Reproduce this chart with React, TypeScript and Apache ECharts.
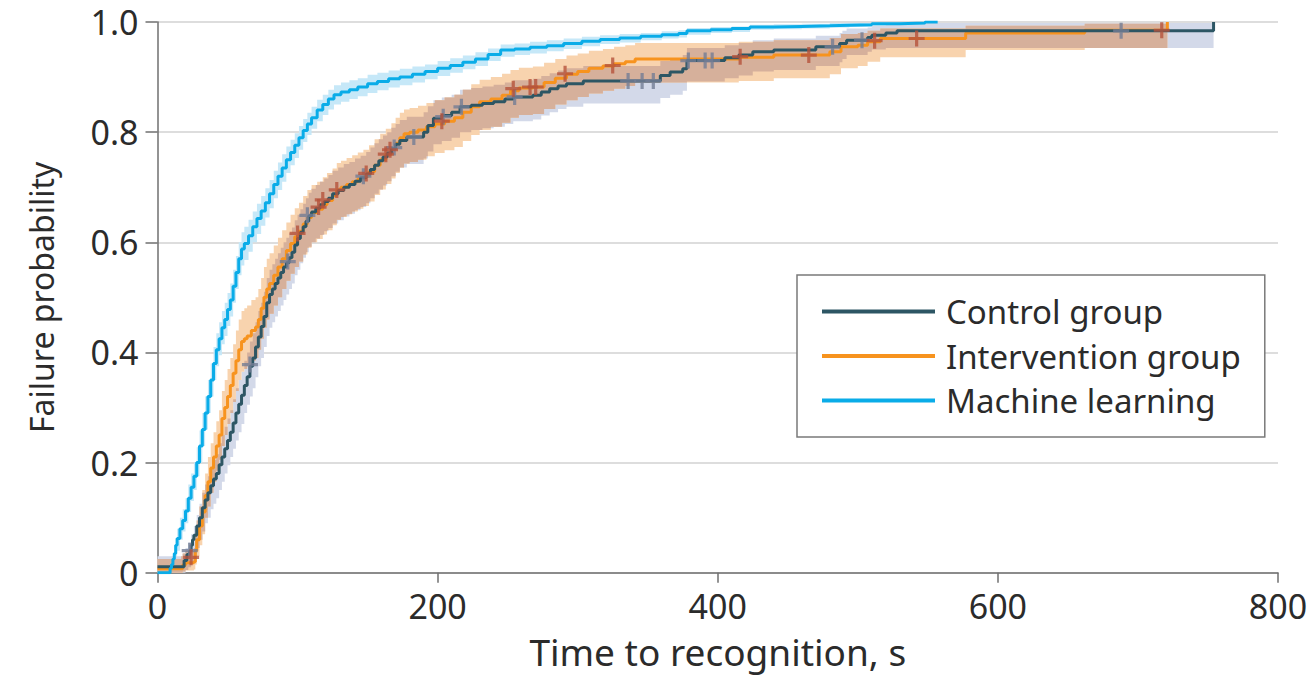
import React, { useEffect, useRef } from "react";
import * as echarts from "echarts";

// ---------- data ----------
const seriesNames = ["Control group", "Intervention group", "Machine learning"];
const xMin = 0;
const xMax = 800;
const xInterval = 200;
const yMin = 0;
const yMax = 1;
const yInterval = 0.2;

// [time (s), failure probability]
const mlCurve: number[][] = [
  [0, 0], [8, 0], [9, 0.008], [10, 0.015], [11, 0.025], [12, 0.035], [13, 0.05], [14, 0.062],
  [16, 0.08], [18, 0.095], [20, 0.112], [22, 0.135], [24, 0.155], [26, 0.175], [28, 0.2],
  [30, 0.23], [32, 0.26], [34, 0.29], [36, 0.32], [38, 0.35], [40, 0.38], [42, 0.405],
  [44, 0.425], [46, 0.445], [48, 0.46], [50, 0.478], [52, 0.495], [54, 0.52], [56, 0.545],
  [58, 0.57], [60, 0.588], [62, 0.598], [65, 0.612], [68, 0.628], [71, 0.643], [74, 0.657],
  [77, 0.672], [80, 0.688], [83, 0.705], [86, 0.72], [89, 0.735], [92, 0.75], [95, 0.763],
  [98, 0.776], [101, 0.79], [104, 0.803], [107, 0.815], [110, 0.826], [114, 0.84], [118, 0.85],
  [122, 0.86], [126, 0.868], [131, 0.873], [137, 0.877], [143, 0.882], [150, 0.888],
  [157, 0.892], [165, 0.897], [173, 0.9], [182, 0.905], [191, 0.91], [200, 0.916],
  [209, 0.921], [218, 0.927], [227, 0.933], [236, 0.941], [245, 0.949], [255, 0.951],
  [266, 0.954], [278, 0.957], [290, 0.961], [303, 0.965], [316, 0.968], [330, 0.971],
  [345, 0.974], [360, 0.977], [372, 0.979], [378, 0.984], [395, 0.986], [410, 0.988],
  [423, 0.991], [440, 0.992], [460, 0.993], [480, 0.994], [494, 0.995], [510, 0.997],
  [530, 0.998], [548, 1.0], [557, 1.0],
];

const controlCurve: number[][] = [
  [0, 0.011], [18, 0.011], [19, 0.022], [21, 0.033], [23, 0.04], [24, 0.05], [25, 0.06],
  [26, 0.068], [28, 0.085], [30, 0.1], [32, 0.118], [34, 0.132], [36, 0.145], [38, 0.158],
  [40, 0.17], [42, 0.18], [44, 0.196], [46, 0.21], [48, 0.225], [50, 0.24], [52, 0.255],
  [54, 0.272], [56, 0.29], [58, 0.306], [60, 0.322], [62, 0.34], [64, 0.356], [66, 0.375],
  [68, 0.39], [70, 0.41], [72, 0.428], [74, 0.447], [76, 0.465], [78, 0.49], [80, 0.505],
  [82, 0.515], [84, 0.525], [86, 0.535], [88, 0.545], [90, 0.555], [92, 0.563], [94, 0.572],
  [96, 0.582], [98, 0.595], [100, 0.607], [102, 0.618], [104, 0.628], [106, 0.638],
  [108, 0.648], [110, 0.655], [113, 0.662], [116, 0.668], [119, 0.674], [122, 0.68],
  [125, 0.688], [129, 0.694], [133, 0.7], [137, 0.705], [141, 0.711], [145, 0.717],
  [149, 0.724], [152, 0.732], [155, 0.74], [158, 0.748], [161, 0.755], [164, 0.762],
  [167, 0.77], [170, 0.778], [173, 0.785], [178, 0.791], [190, 0.8], [193, 0.812],
  [197, 0.825], [203, 0.83], [210, 0.836], [216, 0.846], [224, 0.849], [232, 0.852],
  [240, 0.855], [248, 0.86], [254, 0.864], [268, 0.867], [274, 0.873], [280, 0.879],
  [286, 0.884], [292, 0.888], [304, 0.893], [359, 0.903], [366, 0.909], [375, 0.915],
  [378, 0.93], [405, 0.935], [415, 0.94], [425, 0.946], [440, 0.949], [470, 0.955],
  [487, 0.961], [492, 0.967], [507, 0.972], [510, 0.976], [520, 0.98], [528, 0.984],
  [754, 1.0],
];

const interventionCurve: number[][] = [
  [0, 0.007], [17, 0.007], [18, 0.014], [20, 0.018], [26, 0.02], [27, 0.04], [28, 0.06],
  [30, 0.085], [32, 0.11], [34, 0.14], [36, 0.165], [38, 0.19], [40, 0.21], [42, 0.23],
  [44, 0.25], [46, 0.28], [48, 0.3], [50, 0.32], [52, 0.34], [54, 0.362], [56, 0.385],
  [58, 0.405], [60, 0.42], [62, 0.425], [64, 0.43], [67, 0.44], [70, 0.446], [72, 0.46],
  [74, 0.48], [76, 0.5], [78, 0.515], [80, 0.525], [83, 0.54], [86, 0.555], [89, 0.57],
  [92, 0.585], [95, 0.598], [98, 0.61], [101, 0.62], [104, 0.633], [107, 0.645],
  [110, 0.654], [114, 0.66], [118, 0.668], [121, 0.676], [125, 0.685], [128, 0.695],
  [131, 0.7], [135, 0.705], [139, 0.71], [143, 0.715], [147, 0.72], [151, 0.728],
  [155, 0.74], [159, 0.75], [163, 0.76], [167, 0.77], [170, 0.78], [173, 0.79],
  [176, 0.797], [180, 0.8], [186, 0.804], [192, 0.81], [198, 0.815], [205, 0.82],
  [212, 0.826], [218, 0.836], [224, 0.846], [230, 0.855], [238, 0.86], [246, 0.867],
  [252, 0.875], [258, 0.88], [268, 0.882], [276, 0.89], [284, 0.898], [292, 0.905],
  [300, 0.91], [308, 0.916], [318, 0.92], [326, 0.924], [334, 0.928], [341, 0.933],
  [415, 0.936], [440, 0.94], [480, 0.946], [488, 0.955], [500, 0.958], [507, 0.964],
  [516, 0.97], [577, 0.98], [662, 0.985], [721, 1.0],
];

// confidence bands: [time, lower, upper]
const mlBand: number[][] = [
  [0, 0, 0], [8, 0, 0.005], [10, 0.005, 0.03], [12, 0.02, 0.05], [14, 0.04, 0.08],
  [16, 0.06, 0.1], [18, 0.075, 0.115], [20, 0.09, 0.135], [22, 0.11, 0.16], [24, 0.13, 0.18],
  [26, 0.15, 0.2], [28, 0.175, 0.228], [30, 0.2, 0.258], [32, 0.23, 0.29], [34, 0.26, 0.32],
  [36, 0.29, 0.35], [38, 0.32, 0.38], [40, 0.35, 0.41], [42, 0.375, 0.435], [44, 0.395, 0.455],
  [46, 0.415, 0.475], [48, 0.43, 0.49], [50, 0.448, 0.508], [52, 0.465, 0.525],
  [54, 0.49, 0.55], [56, 0.515, 0.575], [58, 0.54, 0.6], [60, 0.558, 0.618],
  [62, 0.568, 0.628], [65, 0.583, 0.641], [68, 0.6, 0.656], [71, 0.615, 0.67],
  [74, 0.63, 0.684], [77, 0.645, 0.698], [80, 0.662, 0.713], [83, 0.68, 0.73],
  [86, 0.695, 0.745], [89, 0.71, 0.76], [92, 0.726, 0.774], [95, 0.74, 0.786],
  [98, 0.753, 0.798], [101, 0.768, 0.811], [104, 0.782, 0.824], [107, 0.795, 0.835],
  [110, 0.806, 0.846], [114, 0.82, 0.859], [118, 0.831, 0.868], [122, 0.841, 0.877],
  [126, 0.85, 0.885], [131, 0.855, 0.89], [137, 0.86, 0.894], [143, 0.865, 0.898],
  [150, 0.871, 0.904], [157, 0.876, 0.908], [165, 0.881, 0.912], [173, 0.885, 0.915],
  [182, 0.89, 0.919], [191, 0.896, 0.923], [200, 0.902, 0.929], [209, 0.908, 0.934],
  [218, 0.914, 0.939], [227, 0.92, 0.945], [236, 0.929, 0.952], [245, 0.937, 0.959],
  [255, 0.94, 0.961], [266, 0.943, 0.964], [278, 0.947, 0.967], [290, 0.951, 0.97],
  [303, 0.956, 0.973], [316, 0.96, 0.976], [330, 0.963, 0.978], [345, 0.967, 0.98],
  [360, 0.97, 0.983], [372, 0.972, 0.985], [378, 0.977, 0.989], [395, 0.98, 0.991],
  [410, 0.982, 0.992], [423, 0.986, 0.995], [440, 0.987, 0.996], [460, 0.988, 0.997],
  [480, 0.99, 0.998], [494, 0.991, 0.998], [510, 0.993, 0.999], [530, 0.995, 1],
  [548, 1, 1], [557, 1, 1],
];

const controlBand: number[][] = [
  [0, 0, 0.03], [18, 0, 0.035], [20, 0.005, 0.045], [22, 0.01, 0.055], [24, 0.02, 0.07],
  [26, 0.03, 0.085], [28, 0.045, 0.105], [30, 0.06, 0.125], [32, 0.075, 0.145],
  [34, 0.09, 0.16], [36, 0.1, 0.175], [38, 0.115, 0.19], [40, 0.125, 0.205],
  [42, 0.135, 0.215], [44, 0.15, 0.235], [46, 0.165, 0.25], [48, 0.18, 0.265],
  [50, 0.195, 0.28], [52, 0.21, 0.295], [54, 0.225, 0.315], [56, 0.24, 0.335],
  [58, 0.255, 0.35], [60, 0.27, 0.365], [62, 0.29, 0.385], [64, 0.305, 0.4],
  [66, 0.32, 0.42], [68, 0.335, 0.435], [70, 0.355, 0.455], [72, 0.375, 0.475],
  [74, 0.39, 0.49], [76, 0.41, 0.51], [78, 0.43, 0.535], [80, 0.445, 0.55],
  [82, 0.455, 0.56], [84, 0.465, 0.57], [86, 0.475, 0.58], [88, 0.485, 0.59],
  [90, 0.495, 0.6], [92, 0.505, 0.608], [94, 0.515, 0.617], [96, 0.525, 0.627],
  [98, 0.54, 0.64], [100, 0.55, 0.65], [102, 0.562, 0.66], [104, 0.572, 0.67],
  [106, 0.582, 0.68], [108, 0.592, 0.69], [110, 0.6, 0.697], [113, 0.607, 0.704],
  [116, 0.613, 0.71], [119, 0.62, 0.716], [122, 0.626, 0.722], [125, 0.634, 0.73],
  [129, 0.64, 0.736], [133, 0.647, 0.742], [137, 0.652, 0.746], [141, 0.658, 0.752],
  [145, 0.664, 0.757], [149, 0.671, 0.764], [152, 0.68, 0.772], [155, 0.688, 0.78],
  [158, 0.696, 0.787], [161, 0.703, 0.794], [164, 0.711, 0.8], [167, 0.72, 0.808],
  [170, 0.728, 0.815], [173, 0.736, 0.822], [178, 0.742, 0.828], [190, 0.752, 0.836],
  [193, 0.765, 0.847], [197, 0.778, 0.858], [203, 0.784, 0.863], [210, 0.79, 0.868],
  [216, 0.8, 0.877], [224, 0.804, 0.88], [232, 0.807, 0.883], [240, 0.81, 0.886],
  [248, 0.815, 0.89], [254, 0.82, 0.894], [268, 0.823, 0.897], [274, 0.83, 0.902],
  [280, 0.836, 0.907], [286, 0.842, 0.912], [292, 0.846, 0.916], [304, 0.852, 0.92],
  [359, 0.862, 0.929], [366, 0.868, 0.934], [375, 0.875, 0.94], [378, 0.892, 0.953],
  [405, 0.898, 0.958], [415, 0.903, 0.962], [425, 0.91, 0.967], [440, 0.913, 0.97],
  [470, 0.92, 0.975], [487, 0.927, 0.98], [489, 0.933, 0.984], [492, 0.94, 0.988],
  [507, 0.946, 0.99], [510, 0.95, 0.993], [520, 0.953, 0.995], [528, 0.953, 0.998],
  [754, 1, 1],
];

const interventionBand: number[][] = [
  [0, 0, 0.025], [17, 0, 0.03], [18, 0.002, 0.035], [20, 0.004, 0.04], [26, 0.006, 0.045],
  [27, 0.015, 0.07], [28, 0.03, 0.095], [30, 0.05, 0.12], [32, 0.07, 0.15], [34, 0.1, 0.18],
  [36, 0.12, 0.21], [38, 0.145, 0.235], [40, 0.165, 0.255], [42, 0.185, 0.275],
  [44, 0.205, 0.295], [46, 0.23, 0.33], [48, 0.25, 0.35], [50, 0.27, 0.37],
  [52, 0.29, 0.39], [54, 0.31, 0.415], [56, 0.33, 0.44], [58, 0.35, 0.46],
  [60, 0.365, 0.475], [62, 0.37, 0.48], [64, 0.375, 0.485], [67, 0.385, 0.495],
  [70, 0.39, 0.5], [72, 0.405, 0.515], [74, 0.425, 0.535], [76, 0.445, 0.555],
  [78, 0.46, 0.57], [80, 0.47, 0.58], [83, 0.485, 0.594], [86, 0.5, 0.608],
  [89, 0.515, 0.622], [92, 0.53, 0.636], [95, 0.543, 0.65], [98, 0.555, 0.662],
  [101, 0.565, 0.672], [104, 0.578, 0.684], [107, 0.59, 0.695], [110, 0.6, 0.704],
  [114, 0.606, 0.71], [118, 0.614, 0.718], [121, 0.622, 0.726], [125, 0.631, 0.734],
  [128, 0.641, 0.744], [131, 0.646, 0.748], [135, 0.651, 0.753], [139, 0.656, 0.758],
  [143, 0.661, 0.763], [147, 0.666, 0.768], [151, 0.674, 0.776], [155, 0.686, 0.787],
  [159, 0.696, 0.797], [163, 0.706, 0.806], [167, 0.716, 0.816], [170, 0.726, 0.826],
  [173, 0.736, 0.835], [176, 0.743, 0.841], [180, 0.746, 0.844], [186, 0.75, 0.848],
  [192, 0.756, 0.853], [198, 0.762, 0.858], [205, 0.767, 0.863], [212, 0.773, 0.868],
  [218, 0.784, 0.877], [224, 0.795, 0.887], [230, 0.804, 0.895], [238, 0.81, 0.9],
  [246, 0.817, 0.906], [252, 0.826, 0.913], [258, 0.831, 0.917], [268, 0.833, 0.919],
  [276, 0.842, 0.926], [284, 0.85, 0.933], [292, 0.858, 0.939], [300, 0.864, 0.943],
  [308, 0.87, 0.948], [318, 0.875, 0.951], [326, 0.879, 0.955], [334, 0.884, 0.958],
  [341, 0.89, 0.962], [415, 0.893, 0.964], [440, 0.898, 0.967], [480, 0.905, 0.971],
  [488, 0.916, 0.978], [500, 0.92, 0.98], [507, 0.928, 0.984], [516, 0.936, 0.988],
  [577, 0.949, 0.993], [662, 0.953, 0.997], [721, 1, 1],
];

// censored observations
const controlCensored: number[][] = [
  [23, 0.04], [66, 0.378], [93, 0.565], [107, 0.649], [147, 0.72], [169, 0.772],
  [183, 0.791], [204, 0.828], [217, 0.846], [255, 0.864], [336, 0.893], [346, 0.893],
  [354, 0.893], [379, 0.93], [391, 0.93], [396, 0.93], [482, 0.955], [503, 0.967],
  [688, 0.984],
];
const interventionCensored: number[][] = [
  [24, 0.028], [100, 0.616], [115, 0.664], [118, 0.677], [128, 0.695], [149, 0.725],
  [163, 0.76], [166, 0.768], [203, 0.82], [254, 0.879], [266, 0.882], [270, 0.882],
  [291, 0.906], [325, 0.921], [416, 0.937], [465, 0.94], [512, 0.966], [542, 0.97],
  [717, 0.985],
];

// ---------- styling ----------
const FONT = "Noto Sans";
const TEXT = "#2b2b2b";
const AXIS = "#6f6f6f";
const C_CONTROL = "#2D5664";
const C_INTERV = "#F7931E";
const C_ML = "#0AACE8";
const F_ML = "#C6E8F8";
const F_CONTROL = "#D3D9E9";
const F_INTERV = "#F8D3AE";
const F_OVERLAP = "#D6B09B";
const C_CENS_CONTROL = "#737D95";
const C_CENS_INTERV = "#B5533B";
const PLUS = "path://M4,0h2v4h4v2h-4v4h-2v-4h-4v-2h4z";

function stepPolygon(api: any, band: number[][]) {
  const up: number[][] = [];
  const dn: number[][] = [];
  for (let i = 0; i < band.length; i++) {
    const [t, lo, hi] = band[i];
    const tn = i < band.length - 1 ? band[i + 1][0] : t;
    up.push(api.coord([t, hi]), api.coord([tn, hi]));
    dn.push(api.coord([t, lo]), api.coord([tn, lo]));
  }
  return up.concat(dn.reverse());
}

function rowAt(band: number[][], t: number) {
  let r = band[0];
  for (const row of band) {
    if (row[0] <= t) r = row;
    else break;
  }
  return r;
}

function overlapBand(a: number[][], b: number[][]) {
  const ts = Array.from(new Set([...a.map((r) => r[0]), ...b.map((r) => r[0])])).sort(
    (x, y) => x - y
  );
  const end = Math.min(a[a.length - 1][0], b[b.length - 1][0]);
  const out: number[][] = [];
  for (const t of ts) {
    if (t > end) break;
    const ra = rowAt(a, t);
    const rb = rowAt(b, t);
    const lo = Math.max(ra[1], rb[1]);
    let hi = Math.min(ra[2], rb[2]);
    if (hi < lo) hi = lo;
    out.push([t, lo, hi]);
  }
  return out;
}

function bandSeries(id: string, band: number[][], fill: string, z: number) {
  return {
    id,
    type: "custom",
    silent: true,
    z,
    data: [[0, 0]],
    renderItem: (_p: any, api: any) => ({
      type: "polygon",
      shape: { points: stepPolygon(api, band) },
      style: { fill, stroke: "none" },
    }),
  };
}

export default function App() {
  const ref = useRef<HTMLDivElement>(null);

  useEffect(() => {
    if (!ref.current) return;
    const chart = echarts.init(ref.current, null, { renderer: "svg" });
    const overlap = overlapBand(controlBand, interventionBand);

    chart.setOption({
      animation: false,
      backgroundColor: "#ffffff",
      textStyle: { fontFamily: FONT, color: TEXT },
      grid: { left: 157.5, right: 38, top: 22, bottom: 104.3, containLabel: false },
      legend: {
        data: seriesNames,
        orient: "vertical",
        left: 797,
        top: 275,
        icon: "rect",
        itemWidth: 113,
        itemHeight: 4,
        itemGap: 11.5,
        selectedMode: false,
        backgroundColor: "#ffffff",
        borderColor: "#7a7a7a",
        borderWidth: 1.5,
        borderRadius: 0,
        padding: [20, 24, 20, 25],
        z: 20,
        textStyle: {
          fontFamily: FONT,
          fontSize: 33,
          lineHeight: 33,
          color: TEXT,
          padding: [0, 0, 0, 6],
        },
      },
      xAxis: {
        type: "value",
        min: xMin,
        max: xMax,
        interval: xInterval,
        name: "Time to recognition, s",
        nameLocation: "middle",
        nameGap: 60,
        nameTextStyle: { fontFamily: FONT, fontSize: 37, color: TEXT },
        axisLine: { show: true, lineStyle: { color: AXIS, width: 1.5 } },
        axisTick: { show: true, length: 10, lineStyle: { color: AXIS, width: 1.5 } },
        axisLabel: { fontFamily: FONT, fontSize: 34, color: TEXT, margin: 16 },
        splitLine: { show: false },
      },
      yAxis: {
        type: "value",
        min: yMin,
        max: yMax,
        interval: yInterval,
        name: "Failure probability",
        nameLocation: "middle",
        nameGap: 100,
        nameTextStyle: { fontFamily: FONT, fontSize: 32, color: TEXT },
        axisLine: { show: true, lineStyle: { color: AXIS, width: 1.5 } },
        axisTick: { show: true, length: 12, lineStyle: { color: AXIS, width: 1.5 } },
        axisLabel: {
          fontFamily: FONT,
          fontSize: 34,
          color: TEXT,
          margin: 19,
          formatter: (v: number) => (v === 0 ? "0" : v.toFixed(1)),
        },
        splitLine: { show: true, lineStyle: { color: "#dddddd", width: 2 } },
      },
      series: [
        bandSeries("mlBand", mlBand, F_ML, 1),
        bandSeries("controlBand", controlBand, F_CONTROL, 1),
        bandSeries("interventionBand", interventionBand, F_INTERV, 1),
        bandSeries("overlapBand", overlap, F_OVERLAP, 1),
        {
          name: seriesNames[1],
          type: "line",
          step: "end",
          data: interventionCurve,
          showSymbol: false,
          symbol: "none",
          color: C_INTERV,
          lineStyle: { color: C_INTERV, width: 3 },
          z: 3,
        },
        {
          name: seriesNames[0],
          type: "line",
          step: "end",
          data: controlCurve,
          showSymbol: false,
          symbol: "none",
          color: C_CONTROL,
          lineStyle: { color: C_CONTROL, width: 3 },
          z: 4,
        },
        {
          name: seriesNames[2],
          type: "line",
          step: "end",
          data: mlCurve,
          showSymbol: false,
          symbol: "none",
          color: C_ML,
          lineStyle: { color: C_ML, width: 3 },
          z: 5,
        },
        {
          name: "controlCensored",
          type: "scatter",
          data: controlCensored,
          symbol: PLUS,
          symbolSize: 16,
          itemStyle: { color: C_CENS_CONTROL },
          z: 6,
          silent: true,
        },
        {
          name: "interventionCensored",
          type: "scatter",
          data: interventionCensored,
          symbol: PLUS,
          symbolSize: 16,
          itemStyle: { color: C_CENS_INTERV },
          z: 7,
          silent: true,
        },
      ],
    });

    return () => chart.dispose();
  }, []);

  return (
    <div
      ref={ref}
      style={{ position: "absolute", left: 0, top: 0, width: 1316, height: 677 }}
    />
  );
}
